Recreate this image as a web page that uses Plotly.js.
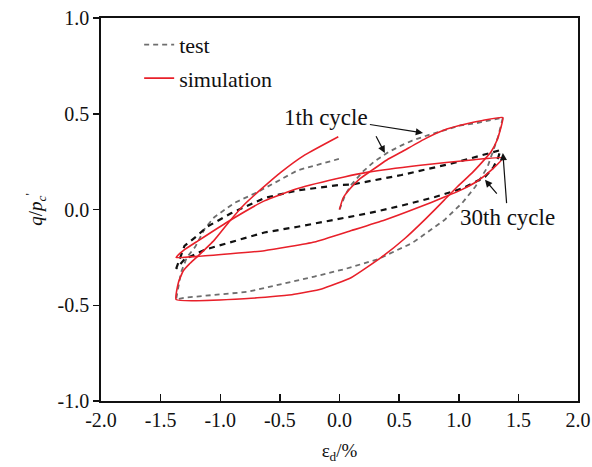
<!DOCTYPE html>
<html>
<head>
<meta charset="utf-8">
<script src="https://cdn.plot.ly/plotly-3.0.1.min.js"></script>
<style>html,body{margin:0;padding:0;background:#fff;}#chart{width:592px;height:467px;}</style>
</head>
<body>
<div id="chart"></div>
<script>
// Test, 1st cycle (initial loading, unloading, reloading)
const testC1X = [0, 0.05, 0.10, 0.20, 0.29, 0.41, 0.52, 0.61, 0.75, 0.88, 1.02, 1.14, 1.27, 1.37,
  1.33, 1.30, 1.24, 1.14, 1.03, 0.88, 0.61, 0.32, 0.05, -0.21, -0.49, -0.77, -1.05, -1.29, -1.37,
  -1.35, -1.33, -1.28, -1.21, -1.13, -1.05, -0.88, -0.69, -0.35, 0.0];
const testC1Y = [0, 0.08, 0.13, 0.20, 0.25, 0.30, 0.335, 0.36, 0.39, 0.415, 0.44, 0.45, 0.467, 0.48,
  0.38, 0.33, 0.22, 0.12, 0.035, -0.055, -0.175, -0.26, -0.31, -0.35, -0.39, -0.43, -0.446, -0.46, -0.47,
  -0.40, -0.33, -0.25, -0.195, -0.10, -0.04, 0.035, 0.09, 0.205, 0.265];

// Test, 30th cycle
const testC30X = [-1.37, -1.33, -1.30, -1.20, -1.11, -0.91, -0.63, -0.35, 0.0, 0.10, 0.52, 0.94, 1.24, 1.35,
  1.33, 1.29, 1.22, 1.03, 0.80, 0.52, 0.24, 0.0, -0.35, -0.63, -0.91, -1.13, -1.30, -1.37];
const testC30Y = [-0.31, -0.24, -0.19, -0.14, -0.09, -0.02, 0.06, 0.10, 0.128, 0.13, 0.18, 0.24, 0.29, 0.31,
  0.27, 0.22, 0.17, 0.11, 0.065, 0.02, -0.02, -0.05, -0.09, -0.12, -0.17, -0.21, -0.26, -0.31];

// Simulation, 1st cycle
const simC1X = [0, 0.03, 0.09, 0.17, 0.26, 0.40, 0.52, 0.72, 0.90, 1.05, 1.20, 1.37,
  1.35, 1.32, 1.27, 1.20, 1.11, 0.99, 0.88, 0.72, 0.55, 0.35, 0.10, -0.15, -0.40, -0.77, -1.37,
  -1.35, -1.31, -1.26, -1.19, -1.05, -0.92, -0.80, -0.65, -0.49, -0.29, -0.01];
const simC1Y = [0, 0.06, 0.11, 0.16, 0.20, 0.26, 0.30, 0.37, 0.42, 0.445, 0.465, 0.48,
  0.42, 0.36, 0.30, 0.25, 0.19, 0.12, 0.05, -0.05, -0.15, -0.25, -0.355, -0.415, -0.445, -0.465, -0.47,
  -0.38, -0.32, -0.285, -0.245, -0.16, -0.06, 0.025, 0.11, 0.195, 0.285, 0.38];

// Simulation, 30th cycle
const simC30X = [-1.37, -1.30, -1.19, -0.94, -0.63, -0.35, 0.04, 0.24, 0.66, 1.13, 1.37,
  1.28, 1.16, 1.03, 0.88, 0.66, 0.38, 0.10, -0.21, -0.63, -1.19, -1.37];
const simC30Y = [-0.25, -0.21, -0.165, -0.065, 0.045, 0.11, 0.17, 0.195, 0.23, 0.26, 0.27,
  0.21, 0.15, 0.105, 0.065, 0.01, -0.055, -0.11, -0.17, -0.215, -0.245, -0.25];

const xTicks = [-2.0, -1.5, -1.0, -0.5, 0.0, 0.5, 1.0, 1.5, 2.0];
const yTicks = [-1.0, -0.5, 0.0, 0.5, 1.0];

const SERIF = 'Liberation Serif';
const RED = '#e8202a';

const traces = [
  {x: testC1X, y: testC1Y, mode: 'lines', name: 'test', legendgroup: 'a',
   line: {color: '#6e6e6e', width: 1.8, dash: '5px,4px'}},
  {x: testC30X, y: testC30Y, mode: 'lines', name: 'test 30', showlegend: false,
   line: {color: '#111111', width: 2.2, dash: '6px,5px'}},
  {x: simC1X, y: simC1Y, mode: 'lines', name: 'simulation', legendgroup: 'b',
   line: {color: RED, width: 1.6, shape: 'spline', smoothing: 0.4}},
  {x: simC30X, y: simC30Y, mode: 'lines', name: 'simulation 30', showlegend: false,
   line: {color: RED, width: 1.6, shape: 'spline', smoothing: 0.4}}
];

const arrowStyle = {showarrow: true, arrowhead: 2, arrowsize: 1.2, arrowwidth: 1.2, arrowcolor: '#111',
  xref: 'x', yref: 'y', axref: 'x', ayref: 'y'};
const labelFont = {family: SERIF, size: 23, color: '#111'};

const layout = {
  width: 592, height: 467,
  margin: {l: 101, r: 14, t: 18, b: 66},
  paper_bgcolor: '#fff', plot_bgcolor: '#fff',
  font: {family: SERIF, size: 18, color: '#111'},
  showlegend: true,
  legend: {x: 0.08, y: 0.985, xanchor: 'left', yanchor: 'top', bgcolor: 'rgba(0,0,0,0)',
    font: {family: SERIF, size: 22, color: '#111'}, tracegroupgap: 2, traceorder: 'grouped'},
  xaxis: {range: [-2, 2], tickvals: xTicks, ticktext: xTicks.map(v => v.toFixed(1)),
    ticks: 'inside', ticklen: 7, tickwidth: 1.5, tickcolor: '#111',
    showline: true, linecolor: '#111', linewidth: 1.8, mirror: true, showgrid: false, zeroline: false,
    tickfont: {family: SERIF, size: 20, color: '#111'},
    title: {text: 'ε<sub>d</sub>/%', font: {family: SERIF, size: 19, color: '#111'}, standoff: 14}},
  yaxis: {range: [-1, 1], tickvals: yTicks, ticktext: yTicks.map(v => v.toFixed(1)),
    ticks: 'outside', ticklen: 6, tickwidth: 1.5, tickcolor: '#111',
    showline: true, linecolor: '#111', linewidth: 1.8, mirror: true, showgrid: false, zeroline: false,
    tickfont: {family: SERIF, size: 20, color: '#111'},
    title: {text: '<i>q</i>/<i>p<sub>c</sub></i><sup>\'</sup>', font: {family: SERIF, size: 19, color: '#111'}, standoff: 10}},
  annotations: [
    Object.assign({x: 0.70, y: 0.40, ax: -0.11, ay: 0.48, text: '1th cycle', font: labelFont}, arrowStyle),
    Object.assign({x: 0.38, y: 0.295, ax: 0.30, ay: 0.39, text: ''}, arrowStyle),
    Object.assign({x: 1.37, y: 0.295, ax: 1.41, ay: -0.04, text: '30th cycle', font: labelFont}, arrowStyle),
    Object.assign({x: 1.22, y: 0.155, ax: 1.33, ay: 0.075, text: ''}, arrowStyle)
  ]
};

Plotly.newPlot('chart', traces, layout, {displayModeBar: false, staticPlot: true});
</script>
</body>
</html>
